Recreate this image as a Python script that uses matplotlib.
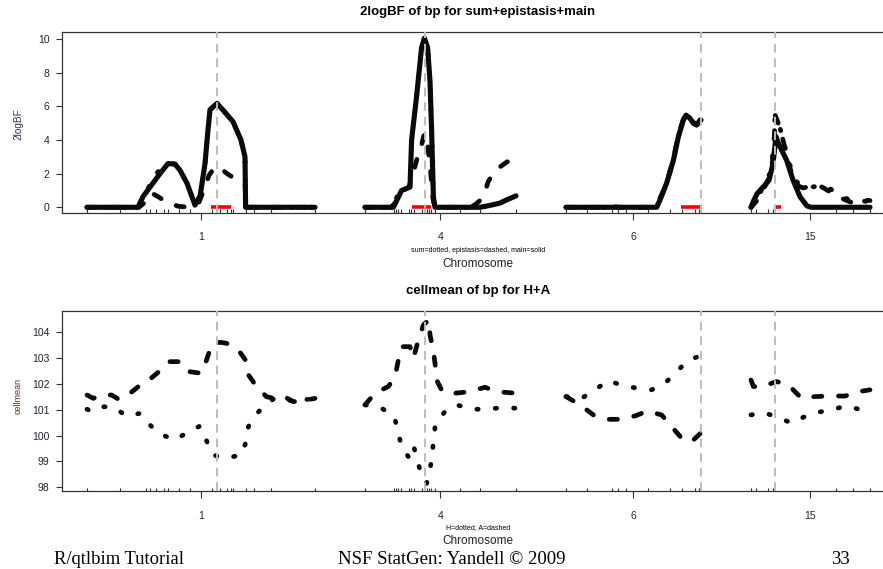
import numpy as np
import matplotlib.pyplot as plt
from matplotlib.transforms import blended_transform_factory

plt.rcParams['font.family'] = ['Liberation Sans', 'DejaVu Sans']

# chromosome layout (cM)
chrom_names = ['1', '4', '6', '15']
chrom_len = [114, 75.5, 67.5, 59.5]
gap_cm = 25

# marker positions within each chromosome (cM)
markers_1 = [0, 16.5, 29.5, 31.5, 34.3, 38.5, 40.7, 46, 51.5, 62.3, 66.5, 70, 71.8, 72.8, 79.5, 83.5, 91.8, 114]
markers_4 = [0, 14.5, 15.5, 16.5, 18, 22, 23, 24.5, 28.5, 30, 31, 32, 33, 35, 47.5, 57.5, 75.5]
markers_6 = [0, 10.3, 22.8, 26.2, 30, 41.2, 52, 57.8, 64.5, 66.7]
markers_15 = [0, 2.5, 8.7, 11.2, 42.5, 51.2, 59.5]

# estimated QTL positions and HPD regions
qtl_pos = [65, 30, 67.4, 12]
hpd_lo = [61.8, 23.3, 57.3, 12.5]
hpd_hi = [72, 33, 67, 15]

# 2logBF curves (pos cM, value)
main_1 = [(0, 0), (25.5, 0), (28, 0.63), (31.5, 1.2), (36.5, 2.0), (40.5, 2.6), (44, 2.57), (46.5, 2.2),
          (50, 1.43), (54, 0.13), (56.5, 0.63), (59, 2.6), (60.5, 4.6), (61.5, 5.8), (65, 6.18), (68, 5.78),
          (73, 5.09), (77, 4.0), (79, 3.0), (79.3, 0), (114, 0)]
epi_1 = [(0, 0), (26, 0), (29, 0.3), (31, 0.8), (33, 0.8), (36, 0.6), (39, 0.35), (42, 0.2), (46, 0.05),
         (52, 0), (56, 0.3), (59, 1.2), (61, 1.9), (64, 2.4), (67, 2.3), (70, 2.0), (74, 1.7), (77, 1.5),
         (79, 1.4), (79.6, 0), (114, 0)]
sum_1 = [(0, 0), (25.5, 0), (28, 0.7), (30, 0.9), (33, 1.9), (35, 2.05), (38, 2.4), (40.5, 2.6), (44, 2.57),
         (46.5, 2.2), (50, 1.43), (54, 0.15), (56.5, 0.7), (59, 2.6), (60.5, 4.6), (61.5, 5.8), (65, 6.18),
         (68, 5.78), (73, 5.09), (77, 4.0), (79, 3.0), (79.3, 0), (114, 0)]

main_4 = [(0, 0), (14.2, 0), (18.3, 1.0), (22.5, 1.2), (23.3, 4.0), (25.8, 6.6), (28.3, 9.5), (29.7, 10.05),
          (31.3, 9.5), (32.5, 7.5), (33.3, 4.6), (34.2, 0.6), (35, 0), (57.5, 0), (62, 0.1), (67.5, 0.25),
          (71, 0.45), (75.5, 0.68)]
epi_4 = [(0, 0), (13, 0), (17, 0.5), (19, 1.0), (22, 1.2), (24, 2.0), (26.5, 3.1), (28.5, 3.8), (29.7, 4.4),
         (31, 4.0), (32.5, 2.5), (34, 0.5), (35, 0), (52.5, 0), (55, 0.15), (58, 0.45), (60, 0.9), (61.5, 1.5),
         (64, 2.0), (67.5, 2.4), (71, 2.7), (75.5, 2.9)]
sum_4 = [(0, 0), (13, 0), (15, 0.4), (18, 1.05), (22.5, 1.25), (23.3, 4.0), (25.8, 6.6), (28.3, 9.5),
         (29.7, 10.05), (31.3, 9.5), (32.5, 7.5), (33.3, 4.6), (34.2, 0.6), (35, 0), (57.5, 0), (62, 0.1),
         (67.5, 0.25), (71, 0.45), (75.5, 0.68)]

main_6 = [(0, 0), (45.3, 0), (47, 0.43), (50.3, 1.43), (53.7, 2.8), (56.2, 4.2), (58.7, 5.19), (60, 5.48),
          (62, 5.29), (63.7, 4.99), (65.3, 4.89), (67.5, 5.19)]
epi_6 = [(0, 0), (20, 0), (23, 0.08), (26, 0), (44, 0), (46, 0.3), (48, 0.8), (50.3, 1.4), (53.7, 2.9),
         (56.2, 4.3), (58.7, 5.25), (60, 5.5), (62, 5.3), (64, 5.0), (66, 5.0), (67.5, 5.3)]
sum_6 = main_6

main_15 = [(0, 0), (1, 0.3), (3, 0.8), (6, 1.2), (9, 1.6), (11, 2.6), (12.5, 4.2), (13.7, 3.8), (17.8, 2.8),
           (21, 1.62), (24.5, 0.63), (28, 0.08), (30, 0), (59.5, 0)]
epi_15 = [(0, 0), (3, 0.4), (6, 1.0), (8, 1.5), (10, 2.0), (11.5, 3.5), (12, 5.5), (13, 5.2), (15, 4.5),
          (17, 3.5), (19, 2.5), (21, 1.8), (23, 1.3), (26, 1.15), (30, 1.25), (34, 1.3), (37, 1.1), (41, 0.8),
          (46, 0.5), (50, 0.3), (55, 0.45), (59.5, 0.4)]
sum_15 = [(0, 0), (3, 0.5), (6, 1.2), (8, 1.6), (10, 2.2), (11.5, 4.0), (12, 5.4), (13, 5.3), (15, 4.5),
          (16.5, 3.8), (19.5, 2.5), (22, 1.6), (26, 1.2), (30, 1.2), (36.5, 1.3), (41, 1.0), (48, 0.5),
          (55, 0.4), (59.5, 0.3)]

# cell means (pos cM, value)
A_1 = [(0, 101.57), (3.2, 101.44), (6.5, 101.57), (12.3, 101.57), (15.7, 101.41), (18.2, 101.44), (24, 101.79),
       (27.3, 102.0), (30.7, 102.13), (36.5, 102.51), (40.7, 102.86), (47.3, 102.86), (51.5, 102.47),
       (57.3, 102.41), (59.8, 102.93), (62.3, 103.51), (66.5, 103.61), (69.8, 103.57), (75.7, 103.31),
       (79.8, 102.86), (80.7, 102.35), (84.8, 101.89), (89.8, 101.5), (94, 101.44), (98.2, 101.53),
       (103.2, 101.31), (109.8, 101.38), (114, 101.44)]
H_1 = [(0, 101.02), (2.3, 100.93), (7.3, 101.12), (13.2, 101.1), (19.8, 100.76), (26.5, 100.86), (31.5, 100.41),
       (36.5, 100.06), (44, 99.83), (50.7, 100.15), (56.5, 100.37), (59.8, 99.8), (62.3, 99.29), (65.7, 99.18),
       (70.7, 99.15), (77.3, 99.25), (79.5, 99.76), (80.7, 100.35), (84.8, 100.84), (89.8, 101.25),
       (94, 101.45), (98.2, 101.5), (103, 101.3), (110, 101.4), (114, 101.42)]
A_4 = [(0, 101.19), (5, 101.64), (11.7, 101.9), (15, 102.28), (16.7, 102.93), (18.3, 103.44), (22.5, 103.44),
       (24.2, 102.99), (26.7, 103.7), (29.2, 104.28), (32, 104.48), (32.5, 103.9), (34.2, 103.25), (35, 102.8),
       (35.8, 102.15), (38.7, 101.7), (45, 101.64), (52.5, 101.7), (60, 101.87), (65.8, 101.7), (75.5, 101.64)]
H_4 = [(0, 101.19), (8.3, 101.06), (14.7, 100.73), (16.7, 100.09), (18.3, 99.57), (21.7, 99.18), (24.2, 99.64),
       (26.3, 98.99), (28.3, 98.48), (30.8, 98.15), (32.5, 98.67), (33.7, 99.32), (34.3, 99.9), (35.3, 100.48),
       (40, 100.93), (45.8, 101.19), (53.3, 101.02), (60.8, 101.02), (68.3, 101.08), (75.5, 101.06)]
A_6 = [(0, 101.51), (7, 101.19), (13.7, 100.8), (20.3, 100.63), (27, 100.63), (34.5, 100.76), (40.7, 100.95),
       (47.8, 100.8), (52.8, 100.35), (57.8, 99.9), (61, 99.75), (63.7, 99.83), (67.5, 100.11)]
H_6 = [(0, 101.51), (7.8, 101.44), (14.5, 101.77), (21.2, 102.13), (28.7, 101.92), (36.2, 101.83),
       (42.8, 101.77), (50.3, 102.09), (55.3, 102.47), (60.8, 102.9), (67.5, 103.1)]
A_15 = [(0, 102.15), (1.2, 101.9), (4.5, 101.87), (12.8, 102.09), (18.7, 101.96), (25.3, 101.44), (32, 101.51),
        (39.5, 101.53), (47, 101.53), (53.7, 101.7), (59.5, 101.77)]
H_15 = [(0, 100.8), (6.2, 100.89), (12.8, 100.73), (20.3, 100.48), (26.2, 100.71), (32.8, 100.89),
        (41.2, 101.02), (47.8, 101.15), (55.3, 100.99), (59.5, 100.9)]

markers = [markers_1, markers_4, markers_6, markers_15]
main_bf = [main_1, main_4, main_6, main_15]
epi_bf = [epi_1, epi_4, epi_6, epi_15]
sum_bf = [sum_1, sum_4, sum_6, sum_15]
H_mean = [H_1, H_4, H_6, H_15]
A_mean = [A_1, A_4, A_6, A_15]

offsets = np.concatenate([[0], np.cumsum(np.array(chrom_len[:-1]) + gap_cm)])
centers = offsets + np.array(chrom_len) / 2

W, H = 883, 569
fig = plt.figure(figsize=(W / 100, H / 100), dpi=100)


def box(l, t, r, b):
    return [l / W, 1 - b / H, (r - l) / W, (b - t) / H]


ax1 = fig.add_axes(box(62, 32, 895, 213))
ax2 = fig.add_axes(box(62, 311, 895, 491.3))

dashed = (0, (1.75, 3.5))
dotted = (0, (0.3, 3.6))
ink = '#0a0a0a'


def curve(ax, i, pts, ls, lw):
    x = [offsets[i] + p for p, v in pts]
    y = [v for p, v in pts]
    ax.plot(x, y, color=ink, lw=lw, ls=ls, dash_capstyle='round', solid_capstyle='round',
            solid_joinstyle='round', dash_joinstyle='round')


for i in range(4):
    curve(ax1, i, sum_bf[i], dotted, 3.4)
    curve(ax1, i, epi_bf[i], dashed, 3.4)
    curve(ax1, i, main_bf[i], '-', 3.7)
    ax1.plot([offsets[i] + hpd_lo[i], offsets[i] + hpd_hi[i]], [0, 0], color='#ff0000', lw=2.6,
             solid_capstyle='butt', zorder=4)
    curve(ax2, i, H_mean[i], dotted, 3.4)
    curve(ax2, i, A_mean[i], dashed, 3.4)

for ax in (ax1, ax2):
    ax.set_xlim(-12.5, 404)
    tr = blended_transform_factory(ax.transData, ax.transAxes)
    for i in range(4):
        ax.vlines([offsets[i] + m for m in markers[i]], 0, 0.02, transform=tr, color='#333333', lw=0.8)
        ax.axvline(offsets[i] + qtl_pos[i], color='#bdbdbd', lw=1.4, ls=(0, (4.5, 3)), zorder=6)
    ax.set_xticks(centers)
    ax.set_xticklabels(chrom_names)
    ax.tick_params(axis='x', direction='out', length=5, width=0.8, pad=9, labelsize=7.5,
                   color='#333333', labelcolor='#222233')
    ax.tick_params(axis='y', direction='out', length=4, width=0.8, pad=5, labelsize=7.5,
                   color='#333333', labelcolor='#222233')
    for s in ('top', 'left', 'bottom', 'right'):
        ax.spines[s].set_color('#333333')
        ax.spines[s].set_linewidth(0.9)

ax1.set_ylim(-0.34, 10.42)
ax1.set_yticks(range(0, 11, 2))
ax2.set_ylim(97.845, 104.82)
ax2.set_yticks(range(98, 105))

cx = 478 / W
fig.text(cx, 1 - 12 / H, '2logBF of bp for sum+epistasis+main', ha='center', va='center',
         fontsize=9.5, fontweight='bold')
fig.text(cx, 1 - 251 / H, 'sum=dotted, epistasis=dashed, main=solid', ha='center', va='center', fontsize=5)
fig.text(cx, 1 - 264 / H, 'Chromosome', ha='center', va='center', fontsize=8.5, color='#222222')
fig.text(18 / W, 1 - 124 / H, '2logBF', rotation=90, ha='center', va='center', fontsize=7.2, color='#333355')

fig.text(cx, 1 - 291 / H, 'cellmean of bp for H+A', ha='center', va='center', fontsize=9.5, fontweight='bold')
fig.text(cx, 1 - 528 / H, 'H=dotted, A=dashed', ha='center', va='center', fontsize=5)
fig.text(cx, 1 - 541 / H, 'Chromosome', ha='center', va='center', fontsize=8.5, color='#222222')
fig.text(18 / W, 1 - 396 / H, 'cellmean', rotation=90, ha='center', va='center', fontsize=6.5, color='#553322')

serif = ['Liberation Serif', 'DejaVu Serif']
fig.text(54 / W, 1 - 559 / H, 'R/qtlbim Tutorial', ha='left', va='center', fontsize=13.4, family=serif)
fig.text(451.7 / W, 1 - 559 / H, 'NSF StatGen: Yandell © 2009', ha='center', va='center', fontsize=13.5,
         family=serif)
fig.text(840.5 / W, 1 - 559 / H, '33', ha='center', va='center', fontsize=13.4, family=serif)

fig.savefig('out.png', dpi=100)
